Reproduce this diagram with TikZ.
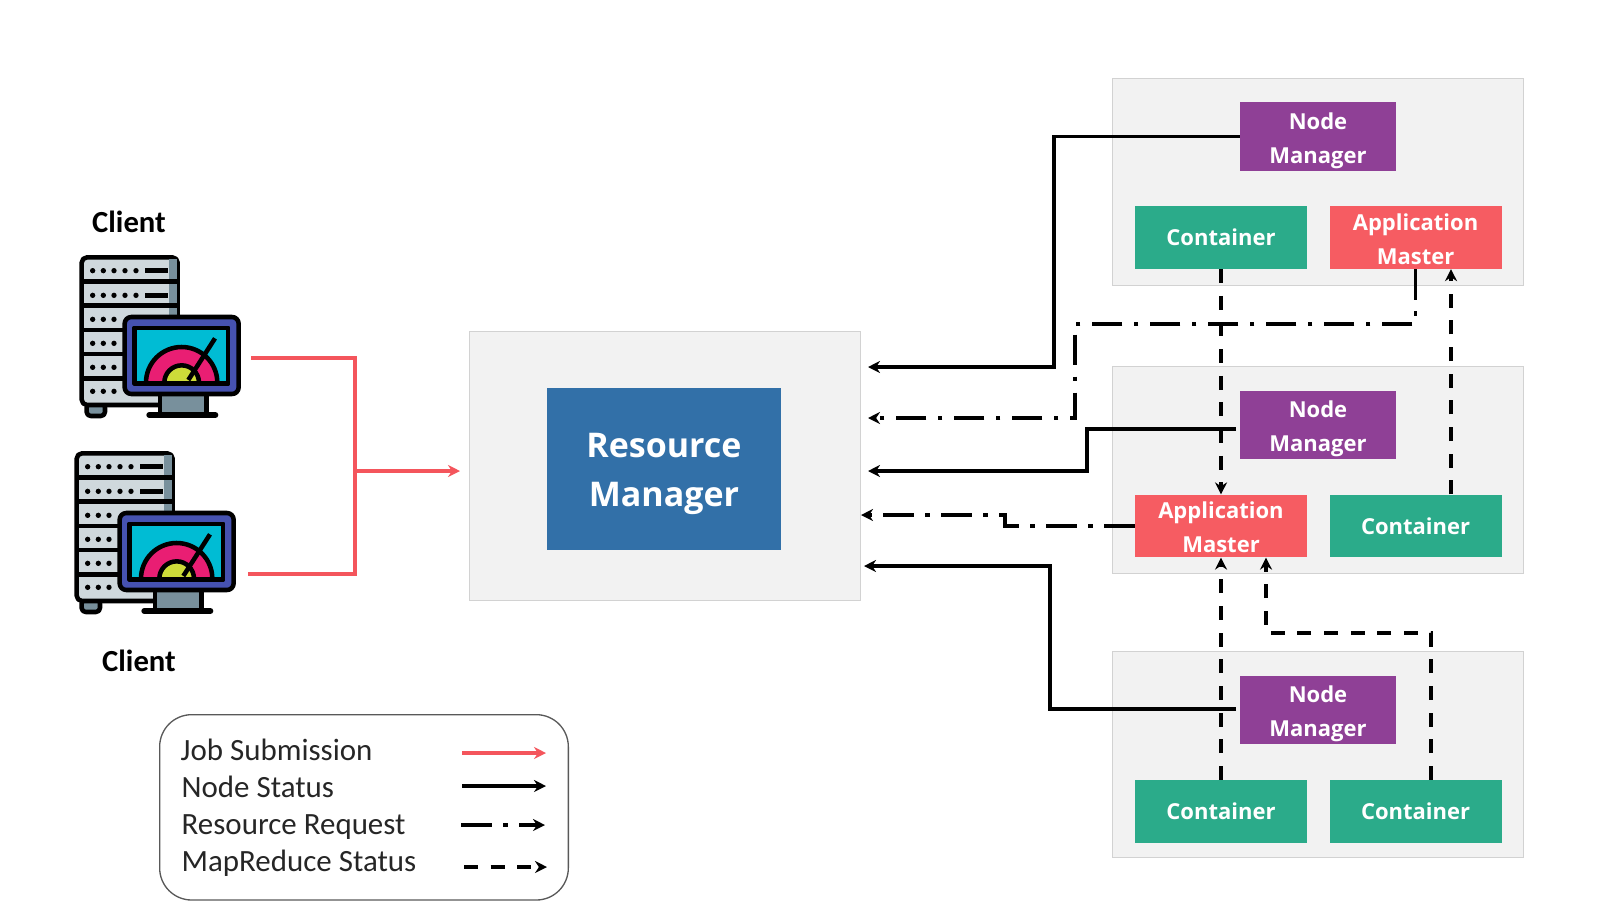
\documentclass[tikz,border=0pt]{standalone}
\usepackage{fontspec}
\setmainfont{Carlito}
\newfontfamily\boxfont{Open Sans}
\usetikzlibrary{positioning,arrows.meta}
\newcommand\toppad[1]{\rule{0pt}{#1}}
\definecolor{panelgrey}{HTML}{F2F2F2}
\definecolor{paneledge}{HTML}{D2D2D2}
\definecolor{nmpurple}{HTML}{8F4096}
\definecolor{ctgreen}{HTML}{2BAB8A}
\definecolor{amred}{HTML}{F65C62}
\definecolor{rmblue}{HTML}{3270A8}
\definecolor{jobred}{HTML}{F4555C}
\definecolor{rackgrey}{HTML}{CFD8DC}
\definecolor{rackdark}{HTML}{78909C}
\definecolor{screenblue}{HTML}{4652B0}
\definecolor{screencyan}{HTML}{00BCD4}
\definecolor{gaugepink}{HTML}{E91E73}
\definecolor{gaugeyellow}{HTML}{CDDC39}
\tikzset{
	clienticon/.pic={
		\begin{scope}[scale=1/3,line width=3.4pt,line join=round]
			% rack with its rows
			\draw[fill=rackdark,rounded corners=3pt] (110,640) rectangle (165,678);
			\draw[fill=rackgrey,rounded corners=4pt] (95,202) rectangle (383,645);
			\fill[rackdark] (358,208) rectangle (380,640);
			\foreach \rowy in {275,347,420,492,565}
				\draw (95,\rowy) -- (383,\rowy);
			\foreach \rowy in {242,316,388,460,532,604}
				\foreach \doty in {128,160,192}
					\fill (\doty,\rowy) circle[radius=8];
			\foreach \rowy in {242,316} {
				\fill (225,\rowy) circle[radius=8];
				\fill (258,\rowy) circle[radius=8];
				\draw (285,\rowy) -- (355,\rowy);
			}
			% monitor stand
			\draw[fill=rackdark] (330,610) rectangle (470,672);
			\draw[line width=4.5pt,line cap=round] (298,675) -- (496,675);
			% monitor
			\draw[fill=screenblue,rounded corners=5pt] (224,381) rectangle (566,612);
			\draw[fill=screencyan] (254,414) rectangle (534,580);
			\begin{scope}
				\clip (254,414) rectangle (534,578);
				\draw[fill=gaugepink] (395,578) circle[radius=107];
				\draw[fill=gaugeyellow] (395,578) circle[radius=52];
				\draw (415,570) -- (495,445);
			\end{scope}
			\draw (254,414) rectangle (534,580);
		\end{scope}
	}
}
\begin{document}
\begin{tikzpicture}[
			x=0.75pt,y=-0.75pt,
			>={Stealth[length=9pt,width=9pt]},
			panel/.style={draw=paneledge,line width=0.9pt,fill=panelgrey,minimum width=308pt,anchor=north west},
			box/.style={inner sep=0pt,align=center,text=white,font=\boxfont\bfseries\fontsize{16.5pt}{25.5pt}\selectfont},
			nmbox/.style={box,fill=nmpurple,minimum width=117pt,minimum height=51.5pt},
			ctbox/.style={box,fill=ctgreen,minimum width=129pt,minimum height=47pt},
			ambox/.style={box,fill=amred,minimum width=129pt,minimum height=47pt},
			rmbox/.style={box,fill=rmblue,minimum width=176pt,minimum height=122pt,font=\boxfont\bfseries\fontsize{25.5pt}{37pt}\selectfont},
			nodestatus/.style={->,line width=2.7pt,black},
			jobline/.style={line width=2.5pt,jobred},
			request/.style={->,line width=2.5pt,dash pattern=on 23pt off 8.5pt on 3.5pt off 8.5pt},
			mapstatus/.style={->,line width=2.5pt,dash pattern=on 10.5pt off 9.5pt},
			clientlabel/.style={font=\bfseries\fontsize{23pt}{27pt}\selectfont},
			legendtext/.style={anchor=west,text=black!85,font=\fontsize{23.2pt}{28pt}\selectfont}
			]
			\useasboundingbox (0,0) rectangle (1610,922);
			% Grey panels
			\node[panel,minimum height=155pt] (top) at (1112,78) {};
			\node[panel,minimum height=155pt] (mid) at (1112,366) {};
			\node[panel,minimum height=155pt] (bot) at (1112,650.5) {};
			\node[panel,minimum width=293pt,minimum height=202pt] (rmpanel) at (469,330.5) {};
			
			% Boxes
			\node[rmbox] (rm) at (664,469) {\toppad{25.8pt}Resource\\Manager};
			\node[nmbox] (nm1) at (1318,136.5) {\toppad{18.6pt}Node\\Manager};
			\node[ctbox] (ct1) at (1221,237.5) {Container};
			\node[ambox,right=16.5pt of ct1] (am1) {\toppad{14.6pt}Application\\Master};
			\node[nmbox] (nm2) at (1318,425) {\toppad{18.6pt}Node\\Manager};
			\node[ambox] (am2) at (1221,526) {\toppad{14.6pt}Application\\Master};
			\node[ctbox,right=16.5pt of am2] (ct2) {Container};
			\node[nmbox] (nm3) at (1318,710) {\toppad{18.6pt}Node\\Manager};
			\node[ctbox] (ct3) at (1221,811.5) {Container};
			\node[ctbox,right=16.5pt of ct3] (ct4) {Container};
			
			% Clients
			\pic (clienta) at (50,190) {clienticon};
			\pic (clientb) at (45,386) {clienticon};
			\node[clientlabel] (clientatext) at (129,222) {Client};
			\node[clientlabel] (clientbtext) at (139,661) {Client};
			
			% Job submission
			\coordinate (joba) at (251,358);
			\coordinate (jobb) at (248,574);
			\coordinate (jobm) at (355,471);
			\coordinate (rmjob) at (460,471);
			\draw[jobline] (joba) -| (jobm);
			\draw[jobline] (jobb) -| (jobm);
			\draw[jobline,->] (jobm) -- (rmjob);
			
			% Node status
			\coordinate (rmnsa) at (868,367);
			\coordinate (rmnsb) at (868,471);
			\coordinate (rmnsc) at (864,566);
			\coordinate (nsb) at (1236,429);
			\coordinate (nsc) at (1236,709);
			\draw[nodestatus] (nm1.west) -- (1054,136.5) |- (rmnsa);
			\draw[nodestatus] (nsb) -- (1087,429) |- (rmnsb);
			\draw[nodestatus] (nsc) -- (1050,709) |- (rmnsc);
			
			% Resource requests
			\coordinate (rmrqa) at (868,418);
			\coordinate (rmrqb) at (861,515);
			\draw[request] (am1.south) |- (1075,324) |- (rmrqa);
			\draw[request] (am2.west) -- (1005,526) |- (rmrqb);
			
			% MapReduce status
			\draw[mapstatus] (ct1.south) -- (am2.north);
			\draw[mapstatus] (ct2.north -| 1451,0) -- (am1.south -| 1451,0);
			\draw[mapstatus] (ct3.north) -- (am2.south);
			\draw[mapstatus] (ct4.north -| 1431,0) -- (1431,633) -- (1266,633) -- (am2.south -| 1266,0);
			
			% Legend
			\node[draw=black!65,line width=1pt,rounded corners=24pt,minimum width=306.5pt,minimum height=139pt,anchor=north west] (legend) at (159,714) {};
			\node[legendtext] (lja) at (176,750) {Job Submission};
			\node[legendtext] (lns) at (177,787) {Node Status};
			\node[legendtext] (lrr) at (177,827) {Resource Request};
			\node[legendtext] (lmr) at (177,863) {MapReduce Status};
			\coordinate (lja1) at (462,753);
			\coordinate (lja2) at (546,753);
			\coordinate (lns1) at (462,786);
			\coordinate (lns2) at (546,786);
			\coordinate (lrr1) at (461,825);
			\coordinate (lrr2) at (545,825);
			\coordinate (lmr1) at (464,867);
			\coordinate (lmr2) at (547,867);
			\draw[jobline,->] (lja1) -- (lja2);
			\draw[nodestatus] (lns1) -- (lns2);
			\draw[request] (lrr1) -- (lrr2);
			\draw[mapstatus] (lmr1) -- (lmr2);
		\end{tikzpicture}
\end{document}
